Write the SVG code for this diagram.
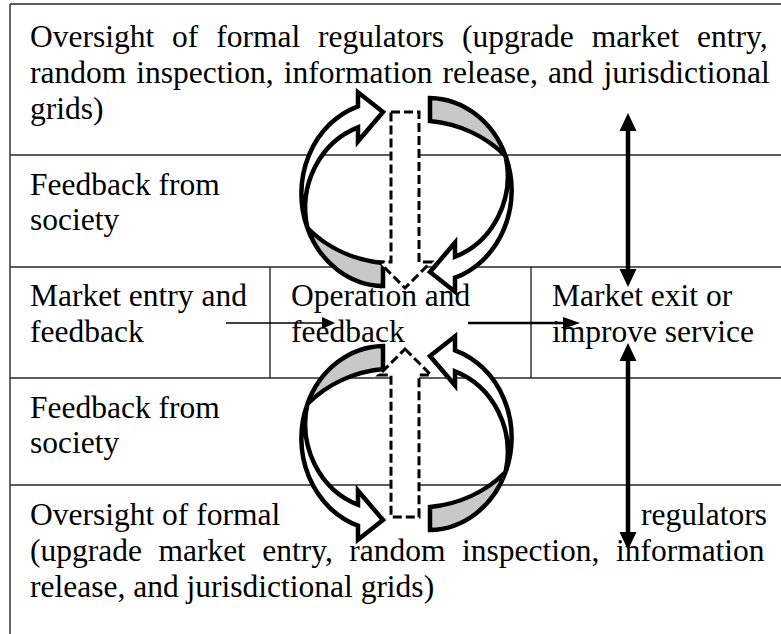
<svg xmlns="http://www.w3.org/2000/svg" xmlns:xlink="http://www.w3.org/1999/xlink" width="781" height="634" viewBox="0 0 781 634">
<style>
  .grid { stroke: #2a2a2a; stroke-width: 1.4; fill: none; }
  .t { font-family: "Liberation Serif", "Times New Roman", serif; font-size: 31.5px; fill: #000; }
  .shade { fill: #c8c8c8; stroke: #000; stroke-width: 4.5; stroke-linejoin: miter; stroke-miterlimit: 4; }
  .band { fill: #fff; stroke: #000; stroke-width: 4.5; stroke-linejoin: miter; stroke-miterlimit: 4; }
  .dash { fill: #fff; stroke: #000; stroke-width: 3; stroke-dasharray: 9 4; }
  .thin { stroke: #000; stroke-width: 1.5; fill: none; }
  .mid { stroke: #000; stroke-width: 2.5; fill: none; }
  .thick { stroke: #000; stroke-width: 4.5; fill: none; }
  .head { fill: #000; stroke: none; }
</style>
<defs>
  <g id="ca">
    <path class="shade" d="M383,263 A120,110 0 0 1 307.4,228 A83,92 0 0 0 383,286 Z"/>
    <path class="band" d="M307.4,228 A83,92 0 0 1 358,106.3 L358,92.3 L383,112 L358,141.3 L358,127.3 A80,86 0 0 0 307.4,228 Z"/>
  </g>
</defs>
<rect width="781" height="634" fill="#fff"/>
<g id="table">
  <path class="grid" d="M10,4 H781 M10,4 V634 M10,155 H781 M10,267 H781 M10,378 H781 M10,485 H781 M270,267 V378 M531,267 V378"/>
</g>
<g id="loops">
  <g id="top-loop">
    <use xlink:href="#ca"/>
    <use xlink:href="#ca" transform="rotate(180 406.5 192)"/>
    <path class="dash" d="M391,112 H419 V262 H431 L405,288 L379,262 H391 Z"/>
  </g>
  <g id="bottom-loop">
    <use xlink:href="#ca" transform="matrix(1 0 0 -1 0 632)"/>
    <use xlink:href="#ca" transform="matrix(-1 0 0 1 813 244)"/>
    <path class="dash" d="M405,349 L431,375 H419 V517 H391 V375 H379 Z"/>
  </g>
</g>
<g id="top-oversight">
  <text class="t" x="30" y="47" style="word-spacing:10px">Oversight of formal regulators (upgrade market entry,</text>
  <text class="t" x="30" y="83" style="word-spacing:2.2px">random inspection, information release, and jurisdictional</text>
  <text class="t" x="30" y="119">grids)</text>
</g>
<g id="top-feedback">
  <text class="t" x="30" y="195">Feedback from</text>
  <text class="t" x="30" y="230">society</text>
</g>
<g id="market-entry">
  <text class="t" x="30" y="306">Market entry and</text>
  <text class="t" x="30" y="342">feedback</text>
</g>
<g id="operation">
  <text class="t" x="291" y="306">Operation and</text>
  <text class="t" x="291" y="342">feedback</text>
</g>
<g id="market-exit">
  <text class="t" x="552" y="306">Market exit or</text>
  <text class="t" x="552" y="342">improve service</text>
</g>
<g id="bottom-feedback">
  <text class="t" x="30" y="418">Feedback from</text>
  <text class="t" x="30" y="453">society</text>
</g>
<g id="bottom-oversight">
  <text class="t" x="30" y="525">Oversight of formal</text>
  <text class="t" x="767" y="525" text-anchor="end">regulators</text>
  <text class="t" x="30" y="561" style="word-spacing:8.6px">(upgrade market entry, random inspection, information</text>
  <text class="t" x="30" y="597">release, and jurisdictional grids)</text>
</g>
<g id="connectors">
  <path class="thin" d="M226,323 H323"/>
  <path class="head" d="M335,323 L322,317 L322,329 Z"/>
  <path class="mid" d="M468,323 H565"/>
  <path class="head" d="M580,323 L563,317 L563,329 Z"/>
  <path class="thick" d="M628,129 V271"/>
  <path class="head" d="M628,113 L619.5,131 L636.5,131 Z"/>
  <path class="head" d="M628,287 L619.5,269 L636.5,269 Z"/>
  <path class="thick" d="M628,359 V534"/>
  <path class="head" d="M628,343 L619.5,361 L636.5,361 Z"/>
  <path class="head" d="M628,550 L619.5,532 L636.5,532 Z"/>
</g>
</svg>
